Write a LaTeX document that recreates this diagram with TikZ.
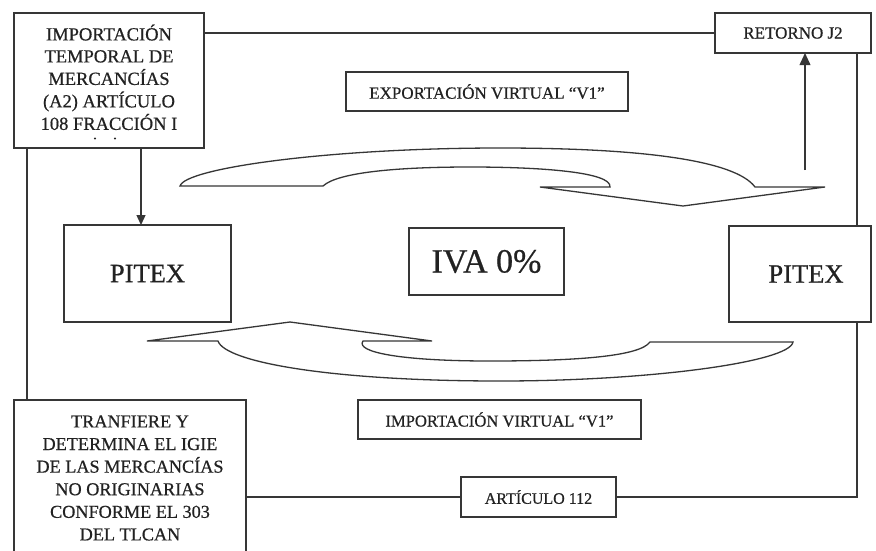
\documentclass[tikz,border=0pt]{standalone}
\usepackage{fontspec}
\setmainfont{Liberation Serif}[FakeBold=0.6]
\usetikzlibrary{arrows.meta}
\definecolor{linecol}{HTML}{363636}
\definecolor{textcol}{HTML}{222222}
\begin{document}
\begin{tikzpicture}[x=1pt,y=-1pt,
  every node/.style={inner sep=0pt,outer sep=0pt},
  box/.style={draw=linecol,line width=1.3pt,rectangle,align=center,text=textcol},
  conn/.style={draw=linecol,line width=1.3pt},
  flow/.style={draw=linecol,line width=1.3pt,line join=miter},
  tip/.style={-{Triangle[length=#1,width=0.9*#1]}},
  bigtext/.style={font=\fontsize{18.5}{22}\selectfont},
  midtext/.style={font=\fontsize{17}{20}\selectfont}]
\clip (0,0) rectangle (876,550);
\fill[white] (0,0) rectangle (876,550);

% boxes
\node[box,bigtext,minimum width=190pt,minimum height=135pt] (tl) at (109,80.5)
  {\raisebox{3pt}{\begin{tabular}{@{}c@{}}IMPORTACIÓN\\TEMPORAL DE\\MERCANCÍAS\\(A2) ARTÍCULO\\108 FRACCIÓN I\end{tabular}}};
\fill[textcol] (95,138.5) circle (1.1pt) (115,138.5) circle (1.1pt);
\node[box,midtext,minimum width=156pt,minimum height=40pt] (ret) at (793,33) {RETORNO J2};
\node[box,midtext,minimum width=282pt,minimum height=39pt] (exp) at (487,91.5) {EXPORTACIÓN VIRTUAL “V1”};
\node[box,font=\fontsize{26.5}{30}\selectfont,minimum width=167pt,minimum height=97pt] (pl) at (147.5,273.5)
  {\raisebox{-9pt}{PITEX}};
\node[box,font=\fontsize{34}{38}\selectfont,minimum width=155pt,minimum height=67pt] (iva) at (486.5,261.5) {IVA 0\%};
\node[box,font=\fontsize{26.5}{30}\selectfont,minimum width=142pt,minimum height=96pt] (pr) at (800,274)
  {\hspace*{12pt}\raisebox{-9pt}{PITEX}};
\node[box,font=\fontsize{16.6}{20}\selectfont,minimum width=283pt,minimum height=39pt] (imp) at (499.5,419.5) {IMPORTACIÓN VIRTUAL “V1”};
\node[box,font=\fontsize{16}{20}\selectfont,minimum width=155pt,minimum height=40pt] (art) at (538.5,497) {ARTÍCULO 112};
\node[box,font=\fontsize{18.2}{22.6}\selectfont,minimum width=232pt,minimum height=156pt] (bl) at (130,478)
  {TRANFIERE Y\\DETERMINA EL IGIE\\DE LAS MERCANCÍAS\\NO ORIGINARIAS\\CONFORME EL 303\\DEL TLCAN};

% connectors
\coordinate (lx) at (27,0);
\coordinate (ax) at (141,0);
\coordinate (rx) at (857,0);
\coordinate (up) at (805,170);
\draw[conn] (tl.east |- ret.west) -- (ret.west);
\draw[conn] (tl.south -| lx) -- (bl.north -| lx);
\draw[conn,tip=10] (tl.south -| ax) -- (pl.north -| ax);
\draw[conn] (ret.south -| rx) -- (pr.north -| rx);
\draw[conn] (pr.south -| rx) |- (art.east);
\draw[conn] (art.west) -- (art.west -| bl.east);
\draw[conn,tip=12] (up) -- (up |- ret.south);

% curved arrow to the right (export)
\draw[flow] (180,186) -- (323,186)
  .. controls (338,172) and (400,167) .. (470,167)
  .. controls (540,167) and (612,172) .. (610,187)
  -- (540,187) -- (683,206) -- (825,187) -- (755,187)
  .. controls (735,160) and (640,148) .. (500,148)
  .. controls (330,148) and (185,168) .. (180,186) -- cycle;

% curved arrow to the left (import)
\draw[flow] (147,341) -- (218,341)
  .. controls (225,362) and (330,381) .. (500,381)
  .. controls (650,381) and (790,362) .. (793,342)
  -- (650,342)
  .. controls (640,356) and (580,361) .. (490,361)
  .. controls (400,361) and (355,352) .. (363,341)
  -- (432,341) -- (290,322) -- cycle;
\end{tikzpicture}
\end{document}
